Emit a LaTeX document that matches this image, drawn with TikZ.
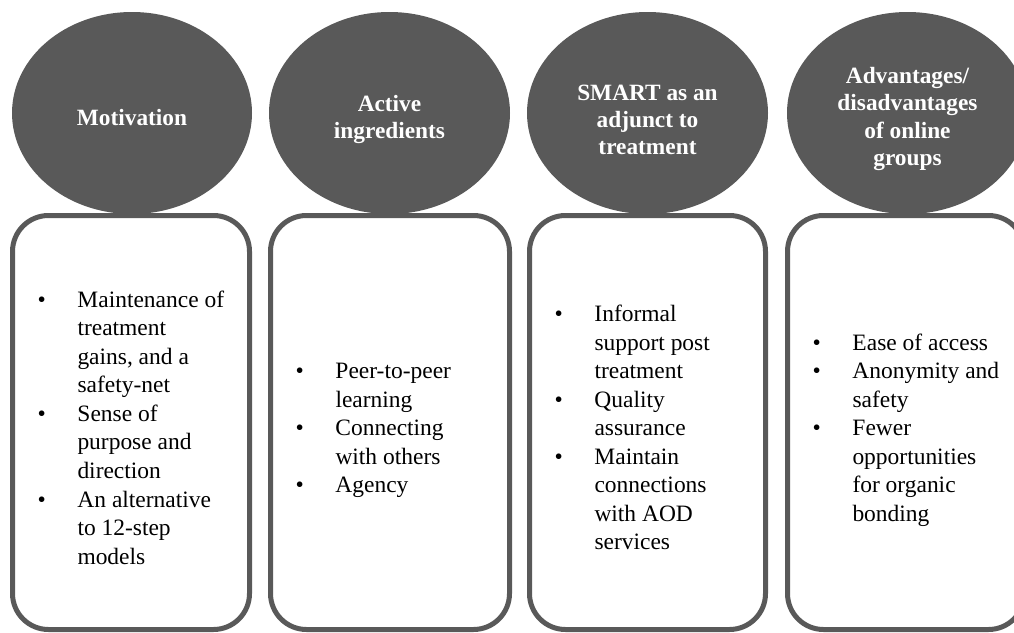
\documentclass[tikz,border=0pt]{standalone}
\usepackage{fontspec}
\setmainfont{Liberation Serif}
\definecolor{darkgrey}{RGB}{89,89,89}

\tikzset{every picture/.style={line width=0.75pt}}
\tikzset{headbubble/.style={draw opacity=0, fill=darkgrey, fill opacity=1},
	itembox/.style={draw=darkgrey, line width=3.75pt, rounded corners=27pt},
	headtext/.style={text=white, inner sep=0, font=\fontsize{17.5}{20.5}\selectfont\bfseries},
	itemtext/.style={anchor=west, inner sep=0, font=\fontsize{17.6}{21.4}\selectfont}}

\begin{document}
\begin{tikzpicture}[x=0.75pt,y=0.75pt,yscale=-1,xscale=1]
	\useasboundingbox (0,0) rectangle (1014,632);
	\clip (0,0) rectangle (1014,632);

	%Shape: Ellipse [motivation]
	\draw  [headbubble] (132,113) ellipse (120 and 101);
	%Shape: Ellipse [ingredients]
	\draw  [headbubble] (389.5,113) ellipse (120.5 and 101);
	%Shape: Ellipse [adjunct]
	\draw  [headbubble] (647.5,113) ellipse (120.5 and 101);
	%Shape: Ellipse [online]
	\draw  [headbubble] (907.5,113) ellipse (120.5 and 101);

	%Shape: Rounded Rect [motivation]
	\draw  [itembox] (12.5,215.5) rectangle (249.5,629.5);
	%Shape: Rounded Rect [ingredients]
	\draw  [itembox] (270.5,215.5) rectangle (509.5,629.5);
	%Shape: Rounded Rect [adjunct]
	\draw  [itembox] (529.5,215.5) rectangle (765.5,629.5);
	%Shape: Rounded Rect [online]
	\draw  [itembox] (787.5,215.5) rectangle (1024.5,629.5);

	% Text Node
	\node [headtext] (motivhead) at (132,120) {\begin{tabular}{@{}c@{}}Motivation\end{tabular}};
	% Text Node
	\node [headtext] (ingrhead) at (389.5,119.5) {\begin{tabular}{@{}c@{}}Active\\ingredients\end{tabular}};
	% Text Node
	\node [headtext] (adjhead) at (647.5,122) {\begin{tabular}{@{}c@{}}SMART as an\\adjunct to\\treatment\end{tabular}};
	% Text Node
	\node [headtext] (onlinehead) at (907.5,119) {\begin{tabular}{@{}c@{}}Advantages/\\disadvantages\\of online\\groups\end{tabular}};

	% Text Node
	\node [itemtext] (motivlist) at (37,430) {\begin{tabular}{@{}p{30pt}@{}l@{}}
		\textbullet & Maintenance of\\ & treatment\\ & gains, and a\\ & safety-net\\
		\textbullet & Sense of\\ & purpose and\\ & direction\\
		\textbullet & An alternative\\ & to 12-step\\ & models
	\end{tabular}};
	% Text Node
	\node [itemtext] (ingrlist) at (295,430) {\begin{tabular}{@{}p{30pt}@{}l@{}}
		\textbullet & Peer-to-peer\\ & learning\\
		\textbullet & Connecting\\ & with others\\
		\textbullet & Agency
	\end{tabular}};
	% Text Node
	\node [itemtext] (adjlist) at (554,430) {\begin{tabular}{@{}p{30pt}@{}l@{}}
		\textbullet & Informal\\ & support post\\ & treatment\\
		\textbullet & Quality\\ & assurance\\
		\textbullet & Maintain\\ & connections\\ & with AOD\\ & services
	\end{tabular}};
	% Text Node
	\node [itemtext] (onlinelist) at (812,430) {\begin{tabular}{@{}p{30pt}@{}l@{}}
		\textbullet & Ease of access\\
		\textbullet & Anonymity and\\ & safety\\
		\textbullet & Fewer\\ & opportunities\\ & for organic\\ & bonding
	\end{tabular}};

\end{tikzpicture}
\end{document}
